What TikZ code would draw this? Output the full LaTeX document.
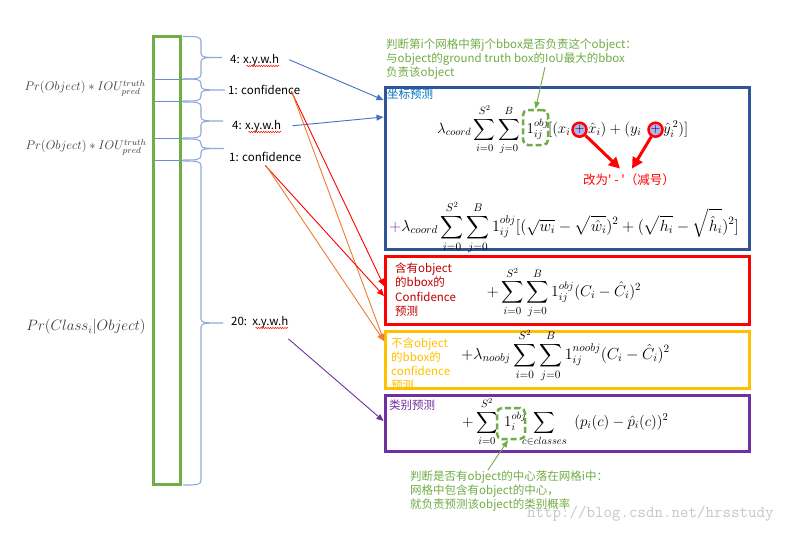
\RequirePackage{fix-cm}
\documentclass[tikz,border=0pt]{standalone}
\DeclareFontShape{OMX}{cmex}{m}{n}{<->cmex10}{}
\usepackage{fontspec}
\setmainfont{Noto Sans CJK SC}
\newfontfamily\rawcjk{Noto Sans CJK SC}[Ligatures=TeXOff]
\usetikzlibrary{arrows.meta,decorations.pathmorphing,fit}
\definecolor{cgreen}{RGB}{112,173,71}
\definecolor{cblue}{RGB}{68,114,196}
\definecolor{bracecol}{RGB}{143,170,220}
\definecolor{boxblue}{RGB}{47,85,151}
\definecolor{lblblue}{RGB}{0,112,192}
\definecolor{dred}{RGB}{192,0,0}
\definecolor{corange}{RGB}{237,125,49}
\definecolor{cyellow}{RGB}{255,192,0}
\definecolor{cpurple}{RGB}{112,48,160}
\definecolor{circfill}{RGB}{176,176,245}
\definecolor{mathgray}{RGB}{60,60,60}
\tikzset{
  lbl/.style={font=\fontsize{11.5}{14}\selectfont, inner sep=0, anchor=base west},
  mth/.style={font=\fontsize{16}{18}\selectfont, inner sep=0, anchor=base west},
  mths/.style={font=\fontsize{15}{17}\selectfont, inner sep=0, anchor=base west},
  framebox/.style={draw, line width=3pt, inner sep=0},
  bracestyle/.style={draw=bracecol, line width=1.1pt},
  divider/.style={draw=cblue!80, line width=0.8pt},
  conn/.style={line width=0.9pt, -{Triangle[length=7pt,width=6pt]}},
  gconn/.style={draw=cgreen, line width=0.9pt, -{Triangle[length=7pt,width=5.5pt]}},
  bigred/.style={draw=red, line width=3pt, -{Triangle[length=11pt,width=11pt]}},
  plusc/.style={circle, draw=red, line width=2.5pt, fill=circfill, minimum size=14pt, inner sep=0, font=\fontsize{13}{13}\selectfont},
  dbox/.style={draw=cgreen, line width=2.5pt, dash pattern=on 6pt off 3pt, rounded corners=5pt, inner sep=0},
  squig/.style={draw=red, line width=0.45pt, decorate, decoration={snake, amplitude=0.7pt, segment length=2.4pt}},
}
\newcommand\ybrace[4]{%
  \draw[bracestyle] (183,#1) .. controls (197,#1) and (201,#1) .. (201,#1+5)
    -- (201,#3-4) .. controls (201,#3) and (206,#3) .. (#4,#3)
    .. controls (206,#3) and (201,#3) .. (201,#3+4)
    -- (201,#2-5) .. controls (201,#2) and (197,#2) .. (183,#2);}
\begin{document}
\begin{tikzpicture}[x=1pt,y=-1pt]
\useasboundingbox (0,0) rectangle (787,542);
\fill[white] (0,0) rectangle (787,542);

% column and dividers
\foreach \yy in {79,101,138,160} \draw[divider] (153.5,\yy) -- (183,\yy);
\node[draw=cgreen, line width=3pt, inner sep=0, fit={(153.5,36.5) (180.5,484.5)}] (col) {};

% braces
\ybrace{36.5}{79}{57.5}{222}
\ybrace{79}{101}{90}{225}
\ybrace{102}{138}{121}{223}
\ybrace{139}{160}{148.5}{224}
\ybrace{161}{485}{323}{223}

% left labels
\node[font=\fontsize{12.5}{14}\selectfont, text=mathgray, inner sep=0] (p1) at (85,88) {$Pr(Object)*IOU^{truth}_{pred}$};
\node[font=\fontsize{12.5}{14}\selectfont, text=mathgray, inner sep=0] (p2) at (86,147) {$Pr(Object)*IOU^{truth}_{pred}$};
\node[font=\fontsize{15}{17}\selectfont, text=mathgray, inner sep=0] (p3) at (86,327) {$Pr(Class_i|Object)$};

% right labels
\node[lbl] (l1) at (230,63) {4: x.y.w.h};
\node[lbl] (l2) at (228,94) {1: confidence};
\node[lbl] (l3) at (232,129) {4: x.y.w.h};
\node[lbl] (l4) at (229,161) {1: confidence};
\node[lbl] (l5) at (231,325) {20:\ \ x.y.w.h};
\foreach \n in {l1,l3,l5} \draw[squig] ([xshift=-33pt,yshift=-3pt]\n.base east) -- ([yshift=-3pt]\n.base east);

% top note (base anchor = last line)
\node[lbl, text=cgreen, align=left] (gtop) at (386,76.8) {判断第i个网格中第j个bbox是否负责这个object：\\与object的ground truth box的IoU最大的bbox\\负责该object};

% boxes
\node[framebox, draw=boxblue, fit={(385,87.5) (749.5,249.5)}] (bluebox) {};
\node[framebox, draw=red, fit={(385.5,256.5) (749.5,324.5)}] (redbox) {};
\begin{scope}
\clip (385.5,331.5) rectangle (749.5,388);
\node[lbl, text=cyellow, align=left] (to) at (391,389.5) {不含object\\的bbox的\\confidence\\预测};
\end{scope}
\node[framebox, draw=cyellow, fit={(385.5,331.5) (749.5,388)}] (orangebox) {};
\node[framebox, draw=cpurple, fit={(385,395) (749.5,451.5)}] (purplebox) {};

% box labels
\node[lbl, text=lblblue] (tb) at (387,98.5) {坐标预测};
\node[lbl, text=dred, align=left, font=\fontsize{11.5}{14.3}\selectfont] (tr) at (395,315.5) {含有object\\的bbox的\\Confidence\\预测};
\node[lbl, text=cpurple] (tp) at (389,409.5) {类别预测};

% formula 1
\node[mths] (fa) at (437,133.5) {$\displaystyle \lambda_{coord}\sum_{i=0}^{S^2}\sum_{j=0}^{B}$};
\node[mths] (fb) at (526.5,133.5) {$\displaystyle 1_{ij}^{obj}$};
\node[mths] (fc) at (548,133.5) {$\displaystyle [(x_i$};
\node[mths] (fd) at (588,133.5) {$\displaystyle \hat{x}_i)+(y_i$};
\node[mths] (fe) at (663,133.5) {$\displaystyle \hat{y}_i^{\,2})]$};
\node[plusc] (c1) at (579.5,129.7) {$+$};
\node[plusc] (c2) at (655.5,129.7) {$+$};
\node[dbox, fit={(523,110) (548,145)}] (db1) {};

% note in blue box
\node[font=\rawcjk\fontsize{12.5}{14}\selectfont, text=red, inner sep=0, anchor=base] (note) at (629,184.5) {改为' - '（减号）};
\draw[bigred] (c1) -- ([xshift=-9pt,yshift=5pt]note.north);
\draw[bigred] (c2) -- ([xshift=3pt,yshift=5pt]note.north);

% formula 2
\node[mth, anchor=base] (f2) at (564,231.5) {$\displaystyle {\color{cpurple}+}\lambda_{coord}\sum_{i=0}^{S^2}\sum_{j=0}^{B}1_{ij}^{obj}[(\sqrt{w_i}-\sqrt{\hat{w}_i})^2+(\sqrt{h_i}-\sqrt{\hat{h}_i})^2]$};

% red formula
\node[mth, anchor=base, font=\fontsize{15.5}{17}\selectfont] (f3) at (564,296.5) {$\displaystyle +\sum_{i=0}^{S^2}\sum_{j=0}^{B}1_{ij}^{obj}(C_i-\hat{C}_i)^2$};
% orange formula
\node[mth, anchor=base] (f4) at (565.5,359.5) {$\displaystyle +\lambda_{noobj}\sum_{i=0}^{S^2}\sum_{j=0}^{B}1_{ij}^{noobj}(C_i-\hat{C}_i)^2$};
% purple formula
\node[mths] (g1) at (462,426.5) {$\displaystyle +\sum_{i=0}^{S^2}$};
\node[mths] (g2) at (504,426.5) {$\displaystyle 1_{i}^{obj}$};
\node[mths] (g3) at (522,426.5) {$\displaystyle \sum_{c\in classes}\mkern9mu(p_i(c)-\hat{p}_i(c))^2$};
\node[dbox, fit={(497,408) (525,439)}] (db2) {};

% bottom note (base anchor = last line)
\node[lbl, text=cgreen, align=left] (gbot) at (410,508.5) {判断是否有object的中心落在网格i中：\\网格中包含有object的中心，\\就负责预测该object的类别概率};

% green connectors
\coordinate (gs1) at (545,67);
\draw[gconn] (gs1) -- (db1.north);
\coordinate (gs2) at (488,470);
\draw[gconn] (gs2) -- ([xshift=-3pt]db2.south);

% connectors from labels
\draw[conn, cblue] ([xshift=10pt]l1.east) -- ([yshift=-14pt]bluebox.north west);
\draw[conn, cblue] ([xshift=11pt]l3.east) -- ([yshift=-31pt]bluebox.north west);
\draw[conn, red] ([xshift=-9pt,yshift=-2pt]l2.east) -- ([yshift=-31pt]redbox.north west);
\draw[conn, corange] ([xshift=-8pt,yshift=-4pt]l2.east) -- ([yshift=-11pt]orangebox.north west);
\draw[conn, red] ([yshift=-4pt]l4.south) -- ([yshift=-41pt]redbox.north west);
\draw[conn, corange] ([xshift=2pt,yshift=-6pt]l4.south) -- ([yshift=-11pt]orangebox.north west);
\draw[conn, cpurple] ([yshift=-11pt]l5.south east) -- ([yshift=-27.5pt]purplebox.north west);

% watermark
\node[font=\ttfamily\fontsize{16.5}{16.5}\selectfont, text=black!22, inner sep=0, anchor=base west] (wm) at (527,517) {http://blog.csdn.net/hrsstudy};
\end{tikzpicture}
\end{document}
